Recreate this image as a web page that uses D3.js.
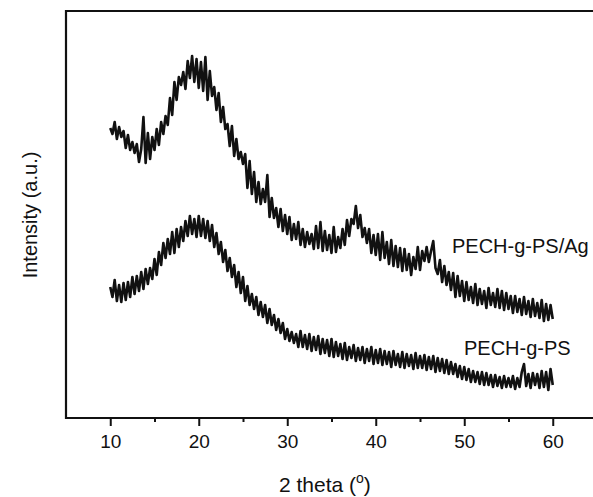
<!DOCTYPE html>
<html>
<head>
<meta charset="utf-8">
<script src="https://cdn.jsdelivr.net/npm/d3@7"></script>
<style>
  body { margin: 0; background: #fff; }
  svg { display: block; font-family: "Liberation Sans", Arial, sans-serif; }
</style>
</head>
<body>
<div id="chart"></div>
<script>
  // 2 theta sampling grid, 10 to 60 deg in 0.25 deg steps
  var twoTheta = d3.range(0, 201).map(function (i) { return 10 + i * 0.25; });

  // intensities (a.u.), one row = 5 deg
  var agValues = [
    290,284,296,279,291,281,287,270,283,268,276,265,274,256,269,301,255,285,259,281,
    268,289,273,296,284,302,293,320,303,336,318,341,333,346,329,357,340,362,336,359,
    330,356,327,361,318,347,322,331,308,325,296,311,289,294,272,292,262,279,259,266,
    254,264,230,257,224,246,216,236,214,229,216,243,201,220,200,210,191,209,187,203,
    184,201,178,194,179,196,173,189,171,186,174,184,169,192,170,196,167,187,168,183,
    165,191,166,181,170,189,173,198,182,199,194,212,190,203,181,190,175,189,165,183,
    163,184,158,186,160,176,154,178,152,172,151,170,147,169,148,164,143,161,149,171,
    148,167,157,171,156,167,177,150,144,158,136,152,133,146,128,145,121,142,122,137,
    117,136,118,131,115,134,113,129,114,127,110,130,113,125,111,129,110,127,108,125,
    109,122,105,122,106,119,103,121,104,117,101,119,102,115,100,118,97,114,98,113,
    99
  ];
  var psValues = [
    131,121,138,117,133,116,135,118,136,121,141,124,142,127,146,129,149,134,150,139,
    159,143,166,153,175,160,179,164,186,165,189,171,191,177,197,182,202,184,199,181,
    202,182,199,180,197,177,193,171,185,164,176,156,168,147,160,141,153,131,146,125,
    141,117,132,113,124,109,121,103,116,101,113,95,109,93,103,88,99,85,95,79,
    89,77,86,75,84,71,87,71,83,69,84,67,81,68,82,64,79,65,78,62,
    79,61,76,62,74,59,75,58,71,60,73,57,70,58,71,55,69,57,71,54,
    68,55,69,53,67,54,66,51,67,53,64,51,66,50,64,52,63,49,65,50,
    62,50,63,48,61,49,62,46,60,47,59,45,58,44,56,44,54,41,52,39,
    51,38,49,36,47,36,46,34,46,33,45,33,43,31,43,32,41,30,42,31,
    40,31,42,29,40,31,46,54,32,44,30,45,33,44,30,47,31,46,28,49,
    33
  ];

  var seriesNames = ["PECH-g-PS/Ag", "PECH-g-PS"];
  var majorTicks = [10, 20, 30, 40, 50, 60];
  var minorTicks = [15, 25, 35, 45, 55];

  var width = 593, height = 497;

  var svg = d3.select("#chart")
    .append("svg")
    .attr("width", width)
    .attr("height", height);

  var x = d3.scaleLinear().domain([5, 65]).range([66, 597]);
  var y = d3.scaleLinear().domain([0, 407]).range([418, 11]);

  var line = d3.line()
    .x(function (d) { return x(d[0]); })
    .y(function (d) { return y(d[1]); });

  [agValues, psValues].forEach(function (vals) {
    svg.append("path")
      .datum(twoTheta.map(function (t, i) { return [t, vals[i]]; }))
      .attr("fill", "none")
      .attr("stroke", "#111")
      .attr("stroke-width", 2.6)
      .attr("stroke-linejoin", "round")
      .attr("d", line);
  });

  // frame
  svg.append("path")
    .attr("d", "M" + x(65) + "," + y(407) + "H" + x(5) + "V" + y(0) + "H" + x(65))
    .attr("fill", "none")
    .attr("stroke", "#111")
    .attr("stroke-width", 2.2);

  var xAxis = d3.axisBottom(x)
    .tickValues(majorTicks)
    .tickSize(8)
    .tickPadding(9)
    .tickFormat(d3.format("d"));

  var gx = svg.append("g")
    .attr("transform", "translate(0," + y(0) + ")")
    .call(xAxis);
  gx.select(".domain").remove();
  gx.selectAll("line").attr("stroke", "#111").attr("stroke-width", 2);
  gx.selectAll("text")
    .attr("fill", "#111")
    .style("font-size", "19px")
    .style("font-family", "'Liberation Sans', Arial, sans-serif");

  var gm = svg.append("g")
    .attr("transform", "translate(0," + y(0) + ")")
    .call(d3.axisBottom(x).tickValues(minorTicks).tickSize(4).tickFormat(""));
  gm.select(".domain").remove();
  gm.selectAll("line").attr("stroke", "#111").attr("stroke-width", 2);

  // series labels
  svg.append("text")
    .attr("x", 452).attr("y", 253)
    .style("font-size", "20px")
    .attr("fill", "#111")
    .text(seriesNames[0]);

  svg.append("text")
    .attr("x", 464).attr("y", 355)
    .style("font-size", "20px")
    .attr("fill", "#111")
    .text(seriesNames[1]);

  // axis titles
  var xt = svg.append("text")
    .attr("x", 279).attr("y", 492)
    .style("font-size", "21px")
    .attr("fill", "#111");
  xt.append("tspan").text("2 theta (");
  xt.append("tspan").attr("dy", -9).style("font-size", "14px").text("o");
  xt.append("tspan").attr("dy", 9).text(")");

  svg.append("text")
    .attr("transform", "translate(37,215) rotate(-90)")
    .attr("text-anchor", "middle")
    .style("font-size", "20px")
    .attr("fill", "#111")
    .text("Intensity (a.u.)");
</script>
</body>
</html>
